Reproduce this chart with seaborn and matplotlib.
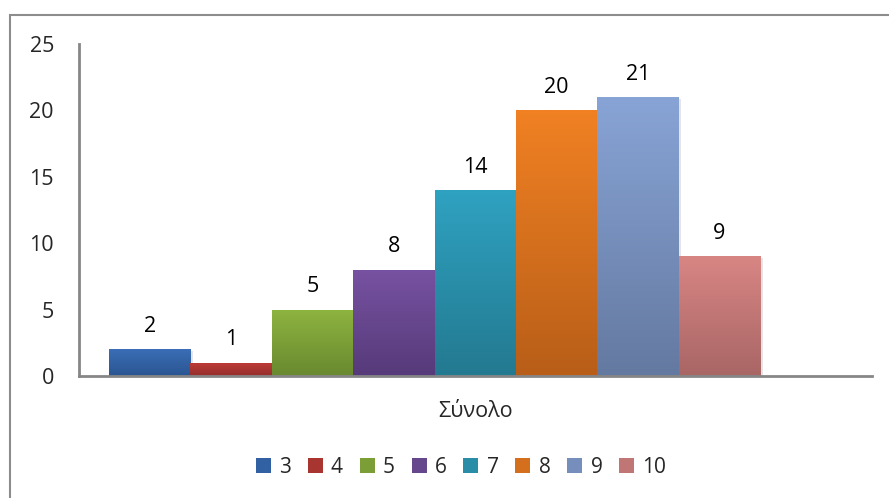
import numpy as np
import pandas as pd
import matplotlib
matplotlib.use("Agg")
import matplotlib.pyplot as plt
from matplotlib.colors import LinearSegmentedColormap
from matplotlib.patches import Patch, Rectangle
import seaborn as sns

# Grade distribution (number of students per grade)
grades = ["3", "4", "5", "6", "7", "8", "9", "10"]
counts = [2, 1, 5, 8, 14, 20, 21, 9]
category_label = "Σύνολο"
y_ticks = [0, 5, 10, 15, 20, 25]

# top / bottom shades for each bar's vertical gradient
top_colors = ["#3A6EB6", "#BF3B37", "#8EB440", "#7752A2", "#2FA2C1",
              "#F18123", "#88A4D6", "#D88684"]
bottom_colors = ["#2A5591", "#942F2C", "#69892F", "#563A79", "#237990",
                 "#B85E18", "#6479A0", "#A86665"]

sns.set_theme(style="white")
plt.rcParams["font.family"] = ["Open Sans", "DejaVu Sans"]

W, H = 889, 498
fig = plt.figure(figsize=(W / 100, H / 100), dpi=100)
ax = fig.add_axes([79 / W, 1 - 376 / H, (872 - 79) / W, (376 - 44) / H])

df = pd.DataFrame({"grade": grades, "count": counts})
mid_colors = [sns.blend_palette([t, b], 3)[1] for t, b in zip(top_colors, bottom_colors)]
sns.barplot(data=df, x="grade", y="count", hue="grade", order=grades,
            hue_order=grades, palette=mid_colors, width=1.0, legend=False,
            saturation=1, ax=ax, linewidth=0)

xlim = (-0.869, 8.873)
ylim = (0, 25)

# soft drop shadow and vertical gradient per bar
bars = sorted(ax.patches, key=lambda p: p.get_x())
for i, p in enumerate(bars):
    x0, w, h = p.get_x(), p.get_width(), p.get_height()
    shadow = Rectangle((x0 + 0.03, -0.15), w, h, facecolor="#000000", alpha=0.10,
                       linewidth=0, zorder=p.get_zorder() - 0.5)
    ax.add_patch(shadow)
    cmap = LinearSegmentedColormap.from_list(f"g{i}", [bottom_colors[i], top_colors[i]])
    grad = np.linspace(0, 1, 256).reshape(-1, 1)
    im = ax.imshow(grad, cmap=cmap, origin="lower", aspect="auto",
                   extent=[x0, x0 + w, 0, h], zorder=p.get_zorder() + 0.1,
                   interpolation="bilinear")
    im.set_clip_path(p)

for cont in ax.containers:
    labels = ax.bar_label(cont, padding=9, fontsize=15.5, color="#000000")
    for t in labels:
        t.set_zorder(5)

ax.set_xlim(*xlim)
ax.set_ylim(*ylim)
ax.set_xticks([4.0])
ax.set_xticklabels([category_label], fontsize=15.5)
ax.set_yticks(y_ticks)
ax.set_yticklabels([str(v) for v in y_ticks], fontsize=15.5)
ax.tick_params(axis="both", length=0)
ax.tick_params(axis="y", pad=18)
ax.tick_params(axis="x", pad=18)
ax.set_xlabel("")
ax.set_ylabel("")

for side in ["top", "right"]:
    ax.spines[side].set_visible(False)
for side in ["left", "bottom"]:
    ax.spines[side].set_color("#868686")
    ax.spines[side].set_linewidth(2)

handles = []
for t, b in zip(top_colors, bottom_colors):
    handles.append(Patch(facecolor=sns.blend_palette([t, b], 3)[1], edgecolor="none"))
fig.legend(handles, grades, loc="center", bbox_to_anchor=(461 / W, 1 - 467 / H),
           ncol=len(grades), frameon=False, fontsize=15, handlelength=0.72,
           handleheight=0.72, handletextpad=0.4, columnspacing=0.8)

# outer chart border
fig.patches.append(Rectangle((10 / W, -0.1), 1.1, 1.1 - 15 / H,
                             transform=fig.transFigure, fill=False,
                             edgecolor="#8C8C8C", linewidth=1.5))

fig.savefig("out.png", dpi=100)
